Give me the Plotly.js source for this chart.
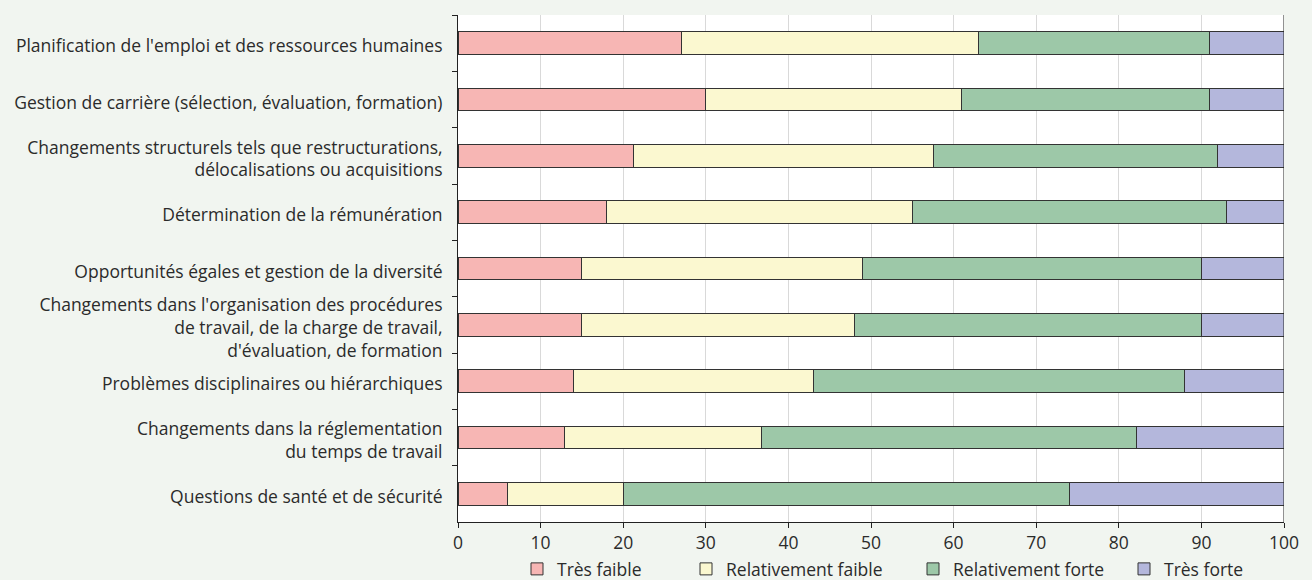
<!DOCTYPE html>
<html>
<head>
<meta charset="utf-8">
<script src="https://cdn.plot.ly/plotly-3.0.1.min.js"></script>
<style>
html,body{margin:0;padding:0;background:#f1f5f0;}
#chart{width:1312px;height:580px;}
</style>
</head>
<body>
<div id="chart"></div>
<script>
const categories = [
  "Planification de l'emploi et des ressources humaines",
  "Gestion de carrière (sélection, évaluation, formation)",
  "Changements structurels tels que restructurations,<br>délocalisations ou acquisitions",
  "Détermination de la rémunération",
  "Opportunités égales et gestion de la diversité",
  "Changements dans l'organisation des procédures<br>de travail, de la charge de travail,<br>d'évaluation, de formation",
  "Problèmes disciplinaires ou hiérarchiques",
  "Changements dans la réglementation<br>du temps de travail",
  "Questions de santé et de sécurité"
];
const tresFaible = [27, 30, 21.3, 18, 15, 15, 14, 12.9, 6];
const relFaible  = [36, 31, 36.3, 37, 34, 33, 29, 23.8, 14];
const relForte   = [28, 30, 34.4, 38, 41, 42, 45, 45.5, 54];
const tresForte  = [9, 9, 8, 7, 10, 10, 12, 17.8, 26];
const seriesNames = ["Très faible", "Relativement faible", "Relativement forte", "Très forte"];
const xTicks = [0, 10, 20, 30, 40, 50, 60, 70, 80, 90, 100];

const colors = ["#f7b6b4", "#fbf8d0", "#9dc8a8", "#b4b7dc"];
const values = [tresFaible, relFaible, relForte, tresForte];
const legendIds = ["legend", "legend2", "legend3", "legend4"];

const traces = values.map((v, i) => ({
  type: "bar",
  orientation: "h",
  name: seriesNames[i],
  x: v,
  y: categories,
  marker: {color: colors[i], line: {color: "#333333", width: 1}},
  legend: legendIds[i],
  hoverinfo: "x+name"
}));

const font = {family: "Open Sans, Noto Sans, sans-serif", size: 17.5, color: "#2b2b2b"};
const legendX = [531, 700, 927, 1138];
const W = 1312, H = 580;
function leg(px){
  return {orientation: "h", xref: "container", x: (px - 14) / W, xanchor: "left",
          yref: "container", y: (H - 569) / H, yanchor: "middle",
          bgcolor: "rgba(0,0,0,0)", font: font, itemwidth: 30, traceorder: "normal"};
}

const layout = {
  width: 1312, height: 580,
  paper_bgcolor: "#f1f5f0",
  plot_bgcolor: "#ffffff",
  margin: {l: 458, r: 28, t: 15, b: 58},
  barmode: "stack",
  bargap: 0.6,
  font: font,
  showlegend: true,
  legend: leg(legendX[0]),
  legend2: leg(legendX[1]),
  legend3: leg(legendX[2]),
  legend4: leg(legendX[3]),
  xaxis: {
    range: [0, 100],
    tickvals: xTicks,
    ticktext: xTicks.map(String),
    showgrid: true, gridcolor: "#d9d9d9", gridwidth: 1,
    zeroline: false,
    showline: true, linecolor: "#222222", linewidth: 1,
    ticks: "outside", ticklen: 5, tickcolor: "#222222",
    tickfont: font, fixedrange: true
  },
  yaxis: {
    type: "category",
    autorange: "reversed",
    showgrid: false,
    showline: true, linecolor: "#222222", linewidth: 1,
    ticks: "outside", ticklen: 5, tickcolor: "#222222",
    tickson: "boundaries",
    ticklabelstandoff: 11,
    ticklabelshift: -3,
    tickfont: font, fixedrange: true
  },
  shapes: [{type: "line", xref: "x", yref: "paper", x0: 100, x1: 100, y0: 0, y1: 1,
            line: {color: "#222222", width: 1}}]
};

Plotly.newPlot("chart", traces, layout, {displayModeBar: false, staticPlot: true});
</script>
</body>
</html>
